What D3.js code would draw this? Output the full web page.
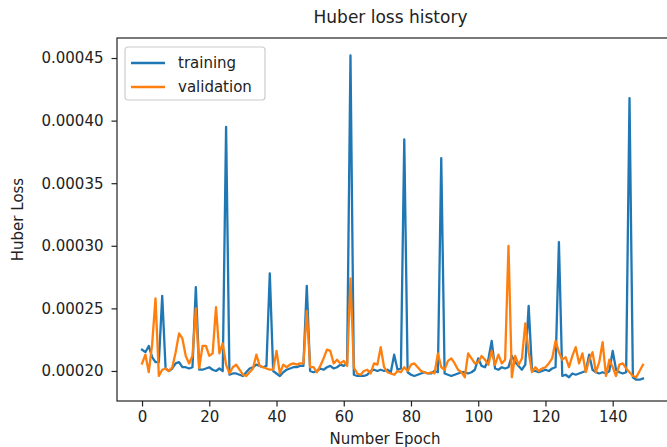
<!DOCTYPE html>
<html>
<head>
<meta charset="utf-8">
<script src="https://cdn.jsdelivr.net/npm/d3@7"></script>
<style>
  html, body { margin: 0; padding: 0; background: #fff; }
  svg { display: block; font-family: "DejaVu Sans", sans-serif; }
</style>
</head>
<body>
<svg id="chart" width="667" height="447"></svg>
<script>
// Huber loss per epoch
const epochs = d3.range(150);

const training = [
  0.000217, 0.000215, 0.000220, 0.000211, 0.000207, 0.000207, 0.000260, 0.000202, 0.000200, 0.000202,
  0.000206, 0.000207, 0.000203, 0.000203, 0.000202, 0.000203, 0.000267, 0.000201, 0.000201, 0.000202,
  0.000203, 0.000201, 0.000200, 0.000202, 0.000200, 0.000395, 0.000197, 0.000198, 0.000198, 0.000197,
  0.000196, 0.000199, 0.000202, 0.000203, 0.000205, 0.000204, 0.000203, 0.000204, 0.000278, 0.000200,
  0.000198, 0.000196, 0.000199, 0.000201, 0.000202, 0.000203, 0.000203, 0.000204, 0.000204, 0.000268,
  0.000200, 0.000199, 0.000200, 0.000202, 0.000201, 0.000203, 0.000204, 0.000202, 0.000203, 0.000205,
  0.000204, 0.000206, 0.000452, 0.000197, 0.000196, 0.000196, 0.000196, 0.000197, 0.000200, 0.000201,
  0.000200, 0.000201, 0.000200, 0.000201, 0.000199, 0.000213, 0.000201, 0.000202, 0.000385, 0.000199,
  0.000197, 0.000196, 0.000197, 0.000198, 0.000199, 0.000198, 0.000198, 0.000200, 0.000199, 0.000370,
  0.000198, 0.000197, 0.000196, 0.000197, 0.000198, 0.000199, 0.000199, 0.000198, 0.000199, 0.000201,
  0.000210, 0.000204, 0.000203, 0.000209, 0.000224, 0.000202, 0.000201, 0.000203, 0.000202, 0.000203,
  0.000212, 0.000207, 0.000204, 0.000201, 0.000205, 0.000252, 0.000200, 0.000200, 0.000199, 0.000200,
  0.000201, 0.000200, 0.000202, 0.000203, 0.000303, 0.000196, 0.000197, 0.000195, 0.000198, 0.000197,
  0.000198, 0.000199, 0.000200, 0.000213, 0.000201, 0.000199, 0.000198, 0.000199, 0.000198, 0.000200,
  0.000216, 0.000201, 0.000199, 0.000198, 0.000199, 0.000418, 0.000195, 0.000193, 0.000193, 0.000194
];

const validation = [
  0.000206, 0.000213, 0.000199, 0.000221, 0.000258, 0.000196, 0.000201, 0.000202, 0.000200, 0.000203,
  0.000215, 0.000230, 0.000226, 0.000212, 0.000206, 0.000212, 0.000250, 0.000202, 0.000220, 0.000220,
  0.000212, 0.000214, 0.000251, 0.000214, 0.000222, 0.000205, 0.000198, 0.000203, 0.000205, 0.000201,
  0.000197, 0.000196, 0.000199, 0.000202, 0.000213, 0.000204, 0.000203, 0.000202, 0.000201, 0.000201,
  0.000216, 0.000198, 0.000205, 0.000203, 0.000205, 0.000206, 0.000205, 0.000206, 0.000206, 0.000248,
  0.000203, 0.000203, 0.000199, 0.000204, 0.000210, 0.000217, 0.000216, 0.000206, 0.000209, 0.000206,
  0.000208, 0.000204, 0.000274, 0.000203, 0.000198, 0.000197, 0.000200, 0.000201, 0.000198, 0.000206,
  0.000205, 0.000219, 0.000203, 0.000199, 0.000198, 0.000197, 0.000200, 0.000199, 0.000203, 0.000200,
  0.000205, 0.000206, 0.000203, 0.000200, 0.000199, 0.000198, 0.000199, 0.000198, 0.000214, 0.000203,
  0.000201, 0.000208, 0.000210, 0.000206, 0.000201, 0.000199, 0.000195, 0.000214, 0.000210, 0.000206,
  0.000207, 0.000212, 0.000209, 0.000205, 0.000216, 0.000205, 0.000213, 0.000206, 0.000209, 0.000300,
  0.000195, 0.000212, 0.000205, 0.000210, 0.000238, 0.000215, 0.000199, 0.000203, 0.000200, 0.000202,
  0.000203, 0.000206, 0.000210, 0.000224, 0.000215, 0.000209, 0.000211, 0.000203, 0.000212, 0.000219,
  0.000206, 0.000214, 0.000199, 0.000209, 0.000215, 0.000199, 0.000207, 0.000223, 0.000196, 0.000209,
  0.000203, 0.000196, 0.000205, 0.000206, 0.000202, 0.000199, 0.000196, 0.000195, 0.000200, 0.000205
];

const xTicks = [0, 20, 40, 60, 80, 100, 120, 140];
const yTicks = [0.00020, 0.00025, 0.00030, 0.00035, 0.00040, 0.00045];
const seriesNames = ["training", "validation"];
const colors = ["#1f77b4", "#ff7f0e"];

const svg = d3.select("#chart");
const plot = { left: 117, right: 668, top: 38, bottom: 401 };

const x = d3.scaleLinear().domain([-7.45, 156.45]).range([plot.left, plot.right]);
const y = d3.scaleLinear().domain([0.000176, 0.000466]).range([plot.bottom, plot.top]);

// clip the series to the axes box
svg.append("defs").append("clipPath").attr("id", "plotClip")
  .append("rect")
  .attr("x", plot.left).attr("y", plot.top)
  .attr("width", plot.right - plot.left).attr("height", plot.bottom - plot.top);

const line = d3.line().x((d, i) => x(epochs[i])).y(d => y(d));

const series = [training, validation];
series.forEach((vals, k) => {
  svg.append("path")
    .datum(vals)
    .attr("clip-path", "url(#plotClip)")
    .attr("fill", "none")
    .attr("stroke", colors[k])
    .attr("stroke-width", 2.3)
    .attr("stroke-linejoin", "round")
    .attr("stroke-linecap", "square")
    .attr("d", line);
});

// axes
const xAxis = d3.axisBottom(x).tickValues(xTicks).tickFormat(d3.format("d")).tickSizeOuter(0).tickSize(5.5).tickPadding(5);
const yAxis = d3.axisLeft(y).tickValues(yTicks).tickFormat(d3.format(".5f")).tickSizeOuter(0).tickSize(5.5).tickPadding(8);

const gx = svg.append("g").attr("transform", `translate(0,${plot.bottom})`).call(xAxis);
const gy = svg.append("g").attr("transform", `translate(${plot.left},0)`).call(yAxis);
[gx, gy].forEach(g => {
  g.select(".domain").remove();
  g.selectAll(".tick line").attr("stroke", "#222").attr("stroke-width", 1.2);
  g.selectAll(".tick text").attr("fill", "#222").style("font-size", "15px").style("font-family", "DejaVu Sans");
});

// frame
svg.append("rect")
  .attr("x", plot.left).attr("y", plot.top)
  .attr("width", plot.right - plot.left).attr("height", plot.bottom - plot.top)
  .attr("fill", "none").attr("stroke", "#222").attr("stroke-width", 1.2);

// title and axis labels
svg.append("text").attr("x", (plot.left + plot.right) / 2 - 2).attr("y", 23)
  .attr("text-anchor", "middle").attr("fill", "#222").style("font-size", "17px")
  .text("Huber loss history");

svg.append("text").attr("x", 385).attr("y", 444)
  .attr("text-anchor", "middle").attr("fill", "#222").style("font-size", "15px")
  .text("Number Epoch");

svg.append("text").attr("transform", `translate(23,${(plot.top + plot.bottom) / 2}) rotate(-90)`)
  .attr("text-anchor", "middle").attr("fill", "#222").style("font-size", "15px")
  .text("Huber Loss");

// legend
const legend = svg.append("g").attr("transform", "translate(125,47)");
legend.append("rect").attr("width", 140).attr("height", 53).attr("rx", 3)
  .attr("fill", "#fff").attr("fill-opacity", 0.8).attr("stroke", "#ccc").attr("stroke-width", 1.2);
seriesNames.forEach((name, i) => {
  const yy = 16 + i * 24;
  legend.append("line").attr("x1", 6).attr("x2", 40).attr("y1", yy).attr("y2", yy)
    .attr("stroke", colors[i]).attr("stroke-width", 2.3);
  legend.append("text").attr("x", 53).attr("y", yy + 5).attr("fill", "#222")
    .style("font-size", "15px").text(name);
});
</script>
</body>
</html>
